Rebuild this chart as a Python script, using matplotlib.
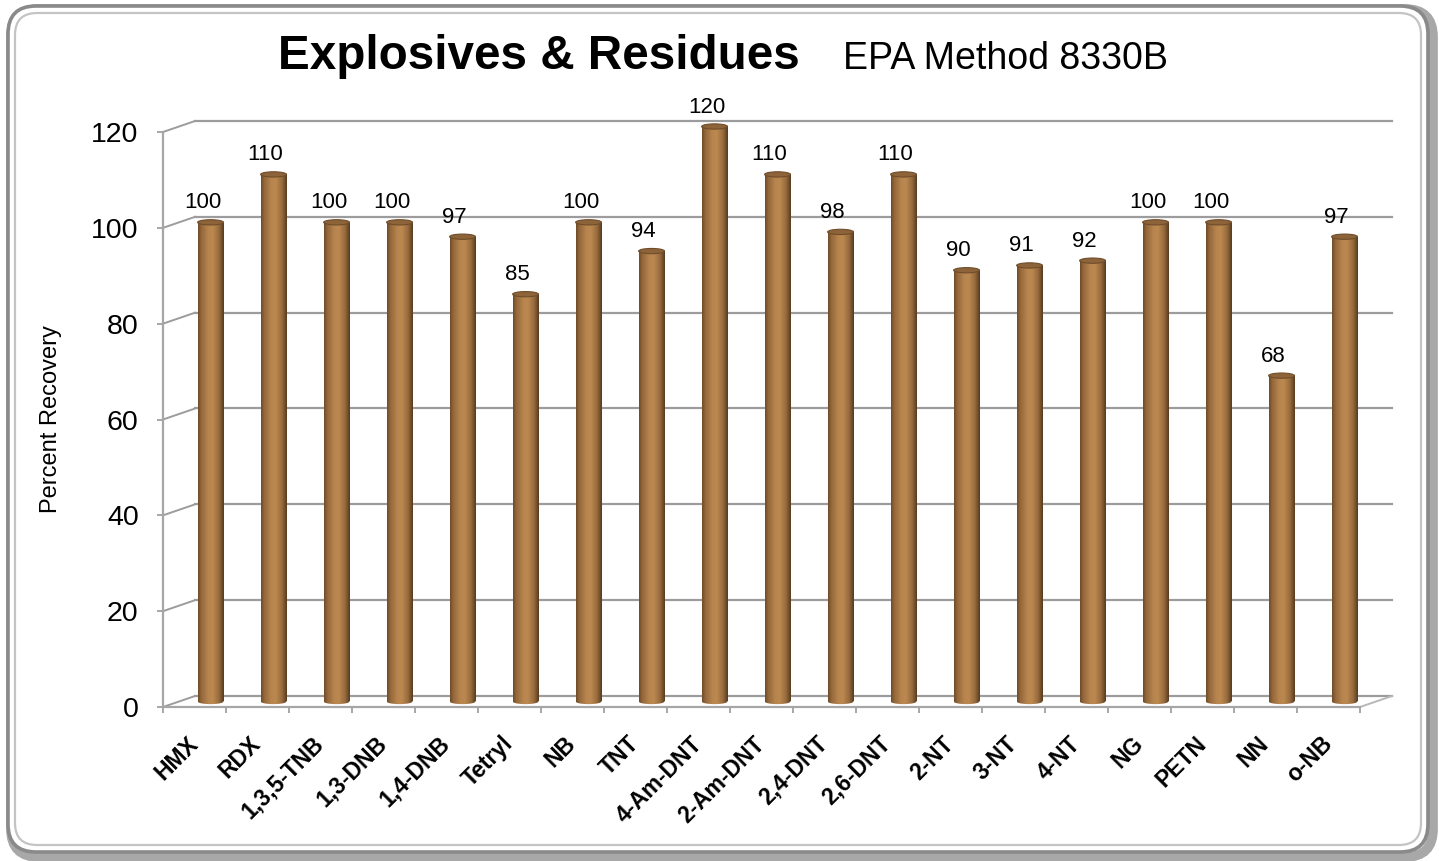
import numpy as np
import matplotlib
matplotlib.use("Agg")
import matplotlib.pyplot as plt
from matplotlib.patches import Ellipse, FancyBboxPatch
from matplotlib.colors import LinearSegmentedColormap

plt.rcParams["font.family"] = ["Liberation Sans", "DejaVu Sans"]

# ---- data -------------------------------------------------------------
compounds = ["HMX", "RDX", "1,3,5-TNB", "1,3-DNB", "1,4-DNB", "Tetryl", "NB",
             "TNT", "4-Am-DNT", "2-Am-DNT", "2,4-DNT", "2,6-DNT", "2-NT",
             "3-NT", "4-NT", "NG", "PETN", "NN", "o-NB"]
recovery = [100, 110, 100, 100, 97, 85, 100, 94, 120, 110, 98, 110, 90,
            91, 92, 100, 100, 68, 97]
y_ticks = [0, 20, 40, 60, 80, 100, 120]

title_main = "Explosives & Residues"
title_sub = "EPA Method 8330B"
y_label = "Percent Recovery"

# ---- figure -----------------------------------------------------------
W, H = 1439, 861
fig = plt.figure(figsize=(W / 100, H / 100), dpi=100)
fig.patch.set_facecolor("white")

# background layer in pixel coordinates for the rounded chart frame
bg = fig.add_axes([0, 0, 1, 1], zorder=0)
bg.set_xlim(0, W)
bg.set_ylim(H, 0)
bg.axis("off")
bg.add_patch(FancyBboxPatch((11, 9), 1422, 848, boxstyle="round,pad=0,rounding_size=28",
                            fc="none", ec="#a8a8a8", lw=7))
bg.add_patch(FancyBboxPatch((8, 6), 1420, 846, boxstyle="round,pad=0,rounding_size=28",
                            fc="white", ec="#8a8a8a", lw=2.6))
bg.add_patch(FancyBboxPatch((15, 13), 1406, 832, boxstyle="round,pad=0,rounding_size=22",
                            fc="none", ec="#c4c4c4", lw=1.6))

# plotting area (front plane of the 3-D box)
ax = fig.add_axes([163 / W, (H - 707) / H, (1360 - 163) / W, (707 - 132) / H], zorder=2)
ax.set_facecolor("none")
n = len(compounds)
ax.set_xlim(0, n)
ax.set_ylim(0, 120)

# depth of the box in data units (back wall offset)
depth_x, depth_y = 0.51, 2.3
grid_col = "#9c9c9c"

for yv in y_ticks:
    # back-wall gridline
    ax.plot([depth_x, n + depth_x], [yv + depth_y, yv + depth_y],
            color=grid_col, lw=1.6, clip_on=False, zorder=1)
    # side-wall diagonal
    ax.plot([0, depth_x], [yv, yv + depth_y], color=grid_col, lw=1.4,
            clip_on=False, zorder=1)
# floor right edge
ax.plot([n, n + depth_x], [0, depth_y], color="#b8b8b8", lw=1.4, clip_on=False, zorder=1)

for s in ["top", "right"]:
    ax.spines[s].set_visible(False)
for s in ["left", "bottom"]:
    ax.spines[s].set_color("#a6a6a6")
    ax.spines[s].set_linewidth(1.6)

ax.set_yticks(y_ticks)
ax.set_yticklabels([str(v) for v in y_ticks], fontsize=20.5)
ax.tick_params(axis="y", direction="out", length=4.5, width=1.3, color="#a0a0a0", pad=13)

ax.set_xticks(np.arange(n + 1))
ax.set_xticklabels([])
ax.tick_params(axis="x", which="major", direction="out", length=4.5, width=1.3, color="#a0a0a0")
ax.set_xticks(np.arange(n) + 0.5, minor=True)
ax.set_xticklabels(compounds, minor=True, fontsize=16.5, fontweight="bold",
                   rotation=45, ha="right", va="center", rotation_mode="anchor")
ax.tick_params(axis="x", which="minor", length=0, pad=24)

ax.set_ylabel(y_label, fontsize=17)
ax.yaxis.set_label_coords(-0.0844, 0.5)

# ---- cylinder bars ----------------------------------------------------
cyl = LinearSegmentedColormap.from_list(
    "cyl", [(0.0, "#704b29"), (0.12, "#93673a"), (0.4, "#b8854f"),
            (0.58, "#bb8950"), (0.82, "#966a3d"), (1.0, "#583b1f")])
grad = np.linspace(0, 1, 64).reshape(1, -1)

bw = 0.41
cap_h = 1.1
xs = np.arange(n) + 0.5 + depth_x / 2
bars = ax.bar(xs, recovery, width=bw, bottom=depth_y / 2, color="#a87848",
              edgecolor="none", zorder=3, clip_on=False)

for bar, v in zip(bars, recovery):
    x0, y0 = bar.get_x(), bar.get_y()
    w, h = bar.get_width(), bar.get_height()
    cx = x0 + w / 2
    im = ax.imshow(grad, cmap=cyl, aspect="auto", extent=[x0, x0 + w, y0, y0 + h],
                   zorder=4, interpolation="bilinear")
    im.set_clip_box(None)
    im.set_clip_path(bar)
    # rounded bottom of the cylinder
    bottom = Ellipse((cx, y0), w, cap_h, fc="none", ec="none", clip_on=False)
    ax.add_patch(bottom)
    imb = ax.imshow(grad, cmap=cyl, aspect="auto", extent=[x0, x0 + w, y0 - cap_h, y0],
                    zorder=4, interpolation="bilinear")
    imb.set_clip_box(None)
    imb.set_clip_path(bottom)
    # top face
    ax.add_patch(Ellipse((cx, y0 + h), w, cap_h, fc="#8d6339", ec="#6f4d2b",
                         lw=0.8, zorder=5, clip_on=False))

for i, v in enumerate(recovery):
    ax.annotate(str(v), xy=(i + 0.5, v), xytext=(8, 25), textcoords="offset pixels",
                ha="center", va="center", fontsize=16, zorder=6)

ax.set_xlim(0, n)
ax.set_ylim(0, 120)

# ---- titles -----------------------------------------------------------
fig.text(278 / W, 1 - 69 / H, title_main, fontsize=34.3, fontweight="bold",
         ha="left", va="baseline")
fig.text(843 / W, 1 - 69 / H, title_sub, fontsize=27, ha="left", va="baseline")

fig.savefig("out.png", dpi=100, facecolor="white")
